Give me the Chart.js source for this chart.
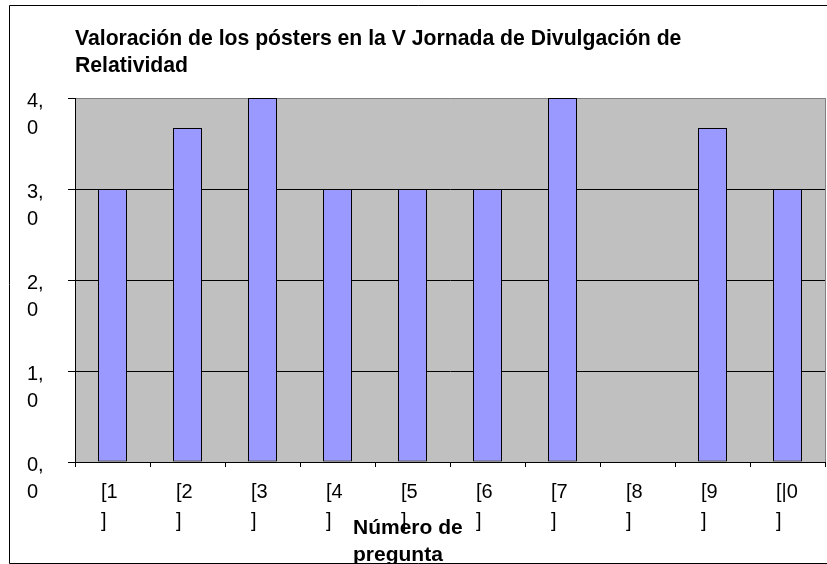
<!DOCTYPE html>
<html>
<head>
<meta charset="utf-8">
<script src="https://cdn.jsdelivr.net/npm/chart.js@4/dist/chart.umd.min.js"></script>
<style>
  body { margin: 0; background: #fff; }
  canvas { display: block; }
</style>
</head>
<body>
<canvas id="grafico" width="827" height="564"></canvas>
<script>
// Datos
const categorias = ["[1]", "[2]", "[3]", "[4]", "[5]", "[6]", "[7]", "[8]", "[9]", "[|0]"];
const valoraciones = [3.0, 3.67, 4.0, 3.0, 3.0, 3.0, 4.0, null, 3.67, 3.0];
const etiquetasY = ["0,0", "1,0", "2,0", "3,0", "4,0"];
const tituloGrafico = ["Valoración de los pósters en la V Jornada de Divulgación de", "Relatividad"];
const tituloEjeX = ["Número de", "pregunta"];

const fuente = "'Liberation Sans', Arial, sans-serif";

// Fondo blanco, marco exterior y área gris del gráfico
const fondo = {
  id: "fondo",
  beforeDraw(chart) {
    const { ctx, chartArea: a } = chart;
    ctx.save();
    ctx.fillStyle = "#ffffff";
    ctx.fillRect(0, 0, chart.width, chart.height);
    ctx.fillStyle = "#c0c0c0";
    ctx.fillRect(a.left, a.top, a.right - a.left, a.bottom - a.top);
    ctx.strokeStyle = "#808080";
    ctx.lineWidth = 1;
    ctx.beginPath();
    ctx.moveTo(a.right + 0.5, a.top);
    ctx.lineTo(a.right + 0.5, a.bottom);
    ctx.stroke();
    ctx.restore();
  },
  afterDraw(chart) {
    const { ctx } = chart;
    ctx.save();
    // título del eje X, recortado por el marco inferior
    ctx.beginPath();
    ctx.rect(0, 0, chart.width, 563);
    ctx.clip();
    ctx.fillStyle = "#000";
    ctx.font = "bold 21px " + fuente;
    ctx.textBaseline = "alphabetic";
    ctx.textAlign = "left";
    tituloEjeX.forEach((linea, i) => ctx.fillText(linea, 353, 534 + i * 27));
    ctx.restore();
    // marco exterior
    ctx.save();
    ctx.strokeStyle = "#000";
    ctx.lineWidth = 1;
    ctx.beginPath();
    ctx.moveTo(chart.width, 5.5);
    ctx.lineTo(9.5, 5.5);
    ctx.lineTo(9.5, 563.5);
    ctx.lineTo(chart.width, 563.5);
    ctx.stroke();
    ctx.restore();
  }
};

const ctx = document.getElementById("grafico").getContext("2d");
new Chart(ctx, {
  type: "bar",
  data: {
    labels: categorias,
    datasets: [{
      data: valoraciones,
      backgroundColor: "#9999ff",
      borderColor: "#000000",
      borderWidth: 1,
      borderSkipped: false,
      inflateAmount: 0,
      barPercentage: 29 / 75,
      categoryPercentage: 1.0
    }]
  },
  options: {
    responsive: false,
    animation: false,
    layout: { padding: { left: 27, right: 2, top: 0, bottom: 0 } },
    plugins: {
      legend: { display: false },
      tooltip: { enabled: false },
      title: {
        display: true,
        text: tituloGrafico,
        align: "start",
        fullSize: false,
        color: "#000",
        font: { family: fuente, size: 21.2, weight: "bold", lineHeight: "27px" },
        padding: { top: 25.5, bottom: 18.5 }
      }
    },
    scales: {
      x: {
        afterFit(scale) { scale.height = 102; },
        grid: {
          display: true,
          drawOnChartArea: false,
          offset: true,
          tickLength: 5,
          color: "#000",
          tickColor: "#000"
        },
        border: { display: true, color: "#000" },
        ticks: {
          color: "#000",
          font: { family: fuente, size: 20, lineHeight: "29px" },
          align: "start",
          labelOffset: -11.5,
          padding: 11,
          maxRotation: 0,
          minRotation: 0,
          autoSkip: false,
          callback: (valor, i) => {
            const t = categorias[i];
            return [t.slice(0, -1), t.slice(-1)];
          }
        }
      },
      y: {
        min: 0,
        max: 4,
        afterFit(scale) { scale.width = 48; },
        grid: {
          color: (c) => (c.tick && c.tick.value === 4 ? "#808080" : "#000"),
          tickColor: "#000",
          tickLength: 7,
          lineWidth: 1
        },
        border: { display: true, color: "#000" },
        ticks: {
          stepSize: 1,
          color: "#000",
          crossAlign: "far",
          labelOffset: 17,
          font: { family: fuente, size: 20, lineHeight: "26.5px" },
          callback: (valor) => {
            const t = etiquetasY[valor];
            const i = t.indexOf(",");
            return [t.slice(0, i + 1), t.slice(i + 1)];
          }
        }
      }
    }
  },
  plugins: [fondo]
});
</script>
</body>
</html>
